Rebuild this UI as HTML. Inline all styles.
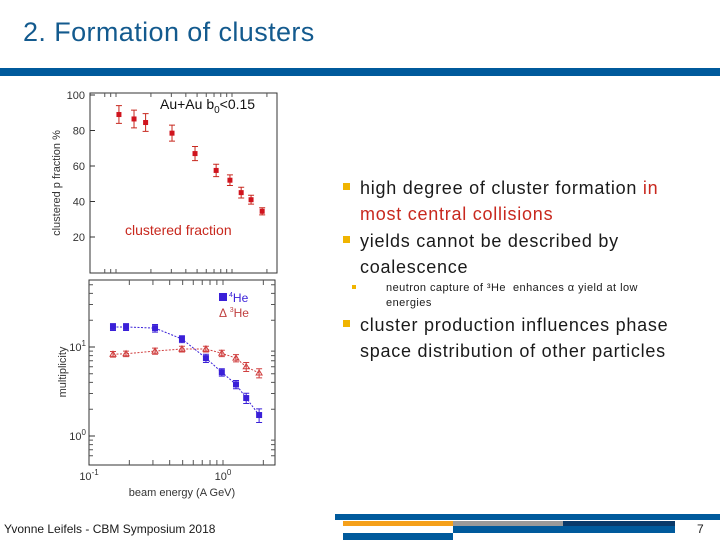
<!DOCTYPE html>
<html><head><meta charset="utf-8"><style>
body{margin:0;width:720px;height:540px;position:relative;overflow:hidden;background:#fff;font-family:"Liberation Sans",sans-serif}
.abs{position:absolute}
.b{position:absolute;width:7px;height:7px;background:#f0b400}
.t{position:absolute;left:360px;font-size:18px;line-height:26px;color:#1a1a1a;letter-spacing:0.75px;white-space:nowrap}
</style></head><body>
<div class="abs" style="left:23px;top:17px;font-size:27px;letter-spacing:0.4px;color:#135a8e">2. Formation of clusters</div>
<div class="abs" style="left:0;top:68px;width:720px;height:8px;background:#005a9c"></div>

<svg class="abs" style="left:0;top:0" width="720" height="540" font-family="Liberation Sans, sans-serif">
<g id="top"></g>
<g id="bot"></g>
</svg>

<div class="b" style="left:343px;top:183px"></div>
<div class="t" style="top:175px">high degree of cluster formation <span style="color:#c8281e">in<br>most central collisions</span></div>
<div class="b" style="left:343px;top:236px"></div>
<div class="t" style="top:228px">yields cannot be described by<br>coalescence</div>
<div class="abs" style="left:352px;top:285px;width:4px;height:4px;background:#f0b400"></div>
<div class="abs" style="left:386px;top:281px;font-size:11px;line-height:15px;letter-spacing:0.45px;color:#1a1a1a;white-space:nowrap">neutron capture of ³He &nbsp;enhances α yield at low<br>energies</div>
<div class="b" style="left:343px;top:320px"></div>
<div class="t" style="top:312px">cluster production influences phase<br>space distribution of other particles</div>

<div class="abs" style="left:4px;top:522px;font-size:12px;color:#1a1a1a">Yvonne Leifels - CBM Symposium 2018</div>
<div class="abs" style="left:335px;top:514px;width:385px;height:6px;background:#005a9c"></div>
<div class="abs" style="left:343px;top:521px;width:110px;height:5px;background:#f5a01a"></div>
<div class="abs" style="left:453px;top:521px;width:110px;height:5px;background:#9a9a9a"></div>
<div class="abs" style="left:563px;top:521px;width:112px;height:5px;background:#0a3a6a"></div>
<div class="abs" style="left:453px;top:526px;width:222px;height:7px;background:#005a9c"></div>
<div class="abs" style="left:343px;top:533px;width:110px;height:7px;background:#005a9c"></div>
<div class="abs" style="left:697px;top:522px;font-size:12px;color:#1a1a1a">7</div>

<script>
const topEnergies=[0.106,0.143,0.18,0.304,0.48,0.73,0.96,1.2,1.46,1.82];
const topFraction=[89,86.5,84.5,78.5,67,57.5,52,45,41,34.5];
const topErr=[5,5,5,4.5,4,3.5,3,3,2.5,2];
const topYTicks=[20,40,60,80,100];
const botEnergies=[0.151,0.189,0.311,0.494,0.746,0.98,1.25,1.49,1.86];
const he4=[16.8,16.8,16.3,12.3,7.5,5.2,3.8,2.67,1.72];
const he4Err=[1.5,1.5,1.6,1.1,0.8,0.5,0.4,0.35,0.3];
const he3=[8.3,8.4,9.0,9.5,9.5,8.5,7.5,6.0,5.1];
const he3Err=[0.6,0.6,0.7,0.7,0.7,0.7,0.7,0.7,0.6];
const NS='http://www.w3.org/2000/svg';
function mk(p,tag,a){const e=document.createElementNS(NS,tag);for(const k in a)e.setAttribute(k,a[k]);p.appendChild(e);return e;}
const tx=v=>116+116*Math.log10(v/0.1);
const ty=v=>272.5-1.775*v;
const T=document.getElementById('top');
let fr=mk(T,'rect',{x:90,y:93,width:187,height:180,fill:'none',stroke:'#333','stroke-width':1});

[0.08,0.09,0.1,0.2,0.3,0.4,0.5,0.6,0.7,0.8,0.9,1,2].forEach(v=>{
 const x=tx(v);if(x<90||x>277)return;
 const l=mk(T,'path',{d:`M${x},273v-4M${x},93v4`,stroke:'#555'});
 
});
topYTicks.forEach(v=>{
 const l=mk(T,'line',{x1:90,x2:95,y1:ty(v),y2:ty(v),stroke:'#333'});
 
 const t=mk(T,'text',{x:85,y:ty(v)+4,'font-size':11,'text-anchor':'end',fill:'#333'});t.textContent=v;
 
});
let yl=mk(T,'text',{transform:'translate(60,183) rotate(-90)','font-size':11,'text-anchor':'middle',fill:'#333'});yl.textContent='clustered p fraction %';

let ann=mk(T,'text',{x:160,y:109,'font-size':14,fill:'#111'});ann.innerHTML='Au+Au b<tspan font-size="10" dy="4">0</tspan><tspan dy="-4">&lt;0.15</tspan>';

let cf=mk(T,'text',{x:125,y:235,'font-size':14,fill:'#c8281e'});cf.textContent='clustered fraction';

topEnergies.forEach((e,i)=>{
 const x=tx(e),y=ty(topFraction[i]),h=1.775*topErr[i];
 const l=mk(T,'path',{d:`M${x},${y-h}V${y+h}M${x-3},${y-h}h6M${x-3},${y+h}h6`,stroke:'#c8281e',fill:'none'});
 
 const r=mk(T,'rect',{x:x-2.5,y:y-2.5,width:5,height:5,fill:'#d0141e'});
 
});
const bx=v=>89+134*Math.log10(v/0.1);
const by=v=>436-89*Math.log10(v);
const B=document.getElementById('bot');
let fb=mk(B,'rect',{x:89,y:280,width:186,height:185,fill:'none',stroke:'#333'});

[0.2,0.3,0.4,0.5,0.6,0.7,0.8,0.9,1,2].forEach(v=>{
 const x=bx(v);
 const l=mk(B,'path',{d:`M${x},465v-5M${x},280v5`,stroke:'#555'});
 
});
[0.6,0.7,0.8,0.9,2,3,4,5,6,7,8,9,20,30,40,50].forEach(v=>{
 const y=by(v);
 const l=mk(B,'path',{d:`M89,${y}h4M275,${y}h-4`,stroke:'#555'});
 
});
[1,10].forEach(v=>{
 const l=mk(B,'line',{x1:89,x2:95,y1:by(v),y2:by(v),stroke:'#333'});
 
 const t=mk(B,'text',{x:86,y:by(v)+4,'font-size':11,'text-anchor':'end',fill:'#333'});t.innerHTML='10<tspan font-size="8" dy="-5">'+Math.log10(v)+'</tspan>';
 
});
[0.1,1].forEach(v=>{
 const t=mk(B,'text',{x:bx(v),y:480,'font-size':11,'text-anchor':'middle',fill:'#333'});t.innerHTML='10<tspan font-size="8" dy="-5">'+Math.log10(v)+'</tspan>';
 
});
let xt=mk(B,'text',{x:182,y:496,'font-size':11,'text-anchor':'middle',fill:'#333'});xt.textContent='beam energy (A GeV)';

let yt=mk(B,'text',{transform:'translate(66,372) rotate(-90)','font-size':11,'text-anchor':'middle',fill:'#333'});yt.textContent='multiplicity';

function series(vals,errs,col,name,tri){
 const d=vals.map((v,i)=>(i?'L':'M')+bx(botEnergies[i])+','+by(v)).join('');
 const p=mk(B,'path',{d,stroke:col,fill:'none','stroke-dasharray':'2,1.5'});
 
 vals.forEach((v,i)=>{
  const x=bx(botEnergies[i]),y=by(v),y1=by(v+errs[i]),y2=by(v-errs[i]);
  const l=mk(B,'path',{d:`M${x},${y1}V${y2}M${x-3},${y1}h6M${x-3},${y2}h6`,stroke:col,fill:'none'});
  
  const m=tri?mk(B,'path',{d:`M${x-3},${y+2}L${x},${y-3}L${x+3},${y+2}Z`,stroke:col,fill:'none'}):mk(B,'rect',{x:x-3,y:y-3,width:6,height:6,fill:col});
  
 });
}
series(he3,he3Err,'#d04040','he3',true);
series(he4,he4Err,'#3a20d8','he4',false);
let lg1=mk(B,'rect',{x:219,y:293,width:8,height:8,fill:'#3a20d8'});
let lt1=mk(B,'text',{x:229,y:302,'font-size':12,fill:'#3a20d8'});lt1.innerHTML='<tspan font-size="7" dy="-5">4</tspan><tspan dy="5">He</tspan>';

let lt2=mk(B,'text',{x:219,y:317,'font-size':12,fill:'#c04040'});lt2.innerHTML='Δ <tspan font-size="7" dy="-5">3</tspan><tspan dy="5">He</tspan>';

</script>
</body></html>
